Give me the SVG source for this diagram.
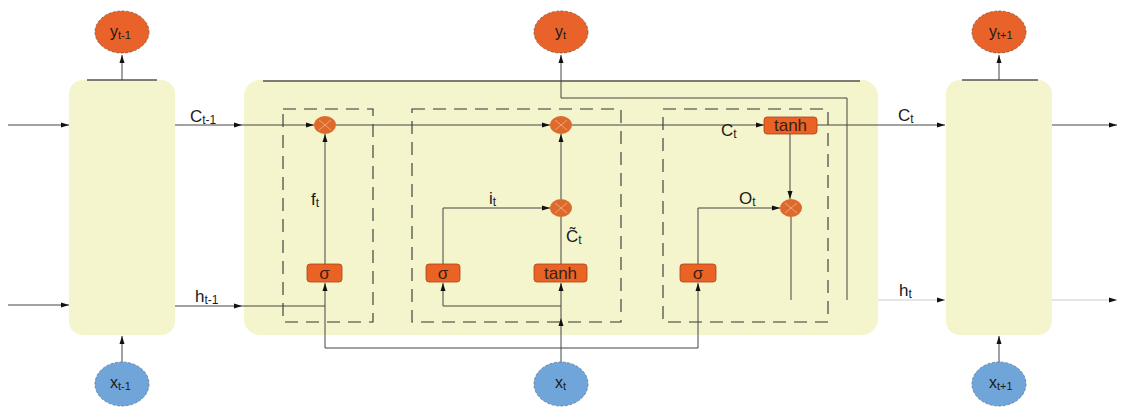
<svg xmlns="http://www.w3.org/2000/svg" width="1121" height="408" viewBox="0 0 1121 408">
<style>
.t{font-family:"Liberation Sans",Arial,sans-serif;fill:#1a1a1a;font-size:17px}
.s{font-size:12px}
.e{font-size:16px}
.es{font-size:11px}
.cell{fill:#f4f4cd}
.dash{fill:none;stroke:#333;stroke-width:1.1;stroke-dasharray:13,8}
.ln{fill:none;stroke:#444;stroke-width:1}
.faint{fill:none;stroke:#ccc;stroke-width:1}
.dark{fill:none;stroke:#555;stroke-width:1.6}
.yo{fill:#e8622a;stroke:#7a4428;stroke-width:0.7;stroke-dasharray:3,1.5}
.xb{fill:#6fa5d9;stroke:#4a6a8a;stroke-width:0.7;stroke-dasharray:3,1.5}
.gate{fill:#eb6324;stroke:#a44515;stroke-width:0.8}
.mul{fill:#dc6a2d}
.x{stroke:#f2a275;stroke-width:1}
.gt{font-family:"Liberation Sans",Arial,sans-serif;fill:#3a2014;font-size:17px;text-anchor:middle}
</style>
<defs>
<marker id="a" viewBox="0 0 8 6" refX="8" refY="3" markerWidth="8" markerHeight="6" markerUnits="userSpaceOnUse" orient="auto">
<path d="M0,0.5 L8,3 L0,5.5 z" fill="#111"/>
</marker>
</defs>

<g id="cell-prev">
<rect class="cell" x="69" y="80" width="106" height="255" rx="14"/>
<path class="dark" d="M87,80 H157"/>
</g>
<g id="cell-main">
<rect class="cell" x="244" y="80" width="634" height="255" rx="16"/>
<path class="dark" d="M263,81 H860"/>
</g>
<g id="cell-next">
<rect class="cell" x="946" y="80" width="106" height="255" rx="14"/>
<path class="dark" d="M962,80 H1038"/>
</g>

<g id="forget-box"><rect class="dash" x="283" y="109" width="90" height="213"/></g>
<g id="input-box"><rect class="dash" x="412" y="109" width="209" height="213"/></g>
<g id="output-box"><rect class="dash" x="663" y="109" width="165" height="213"/></g>

<g id="connectors">
<path class="ln" d="M8,125 H69" marker-end="url(#a)"/>
<path class="ln" d="M8,305 H69" marker-end="url(#a)"/>
<path class="ln" d="M122,80 V55" marker-end="url(#a)"/>
<path class="ln" d="M122,362 V336" marker-end="url(#a)"/>
<path class="ln" d="M175,125 H242" marker-end="url(#a)"/>
<path class="ln" d="M242,125 H314" marker-end="url(#a)"/>
<path class="ln" d="M336,125 H550" marker-end="url(#a)"/>
<path class="ln" d="M572,125 H764" marker-end="url(#a)"/>
<path class="ln" d="M817,125 H945" marker-end="url(#a)"/>
<path class="ln" d="M1052,125 H1117" marker-end="url(#a)"/>
<path class="ln" d="M175,306 H242" marker-end="url(#a)"/>
<path class="ln" d="M242,306 H325"/>
<path class="faint" d="M878,300 H945" marker-end="url(#a)"/>
<path class="faint" d="M1052,300 H1117" marker-end="url(#a)"/>
<path class="ln" d="M561,362 V318" marker-end="url(#a)"/>
<path class="ln" d="M561,318 V283" marker-end="url(#a)"/>
<path class="ln" d="M561,348 H325 V283" marker-end="url(#a)"/>
<path class="ln" d="M561,348 H698 V283" marker-end="url(#a)"/>
<path class="ln" d="M561,306 H443 V283" marker-end="url(#a)"/>
<path class="ln" d="M325,264 V134" marker-end="url(#a)"/>
<path class="ln" d="M443,264 V208 H550" marker-end="url(#a)"/>
<path class="ln" d="M561,264 V217"/>
<path class="ln" d="M561,199 V134" marker-end="url(#a)"/>
<path class="ln" d="M847,300 V98 H561 V55" marker-end="url(#a)"/>
<path class="ln" d="M790,134 V199" marker-end="url(#a)"/>
<path class="ln" d="M698,264 V208 H780" marker-end="url(#a)"/>
<path class="ln" d="M791,217 V300"/>
<path class="ln" d="M999,80 V55" marker-end="url(#a)"/>
<path class="ln" d="M999,362 V336" marker-end="url(#a)"/>
</g>

<g id="mul-f"><ellipse class="mul" cx="325" cy="125" rx="11" ry="9"/><path class="x" d="M319,120 L331,130 M331,120 L319,130"/></g>
<g id="mul-c"><ellipse class="mul" cx="561" cy="125" rx="11" ry="9"/><path class="x" d="M555,120 L567,130 M567,120 L555,130"/></g>
<g id="mul-i"><ellipse class="mul" cx="561" cy="208" rx="11" ry="9"/><path class="x" d="M555,203 L567,213 M567,203 L555,213"/></g>
<g id="mul-o"><ellipse class="mul" cx="791" cy="208" rx="11" ry="9"/><path class="x" d="M785,203 L797,213 M797,203 L785,213"/></g>

<g id="sig-f"><rect class="gate" x="307" y="264" width="35" height="18" rx="3"/><text class="gt" x="324.5" y="279">σ</text></g>
<g id="sig-i"><rect class="gate" x="426" y="264" width="34" height="18" rx="3"/><text class="gt" x="443" y="279">σ</text></g>
<g id="tanh-c"><rect class="gate" x="534" y="264" width="53" height="18" rx="3"/><text class="gt" x="560.5" y="279">tanh</text></g>
<g id="sig-o"><rect class="gate" x="680" y="264" width="36" height="18" rx="3"/><text class="gt" x="698" y="279">σ</text></g>
<g id="tanh-o"><rect class="gate" x="764" y="117" width="53" height="17" rx="3"/><text class="gt" x="790.5" y="131">tanh</text></g>

<g id="y-prev"><ellipse class="yo" cx="122" cy="32" rx="27" ry="21"/><text class="t e" x="110" y="37">y<tspan class="es" dy="2">t-1</tspan></text></g>
<g id="y-cur"><ellipse class="yo" cx="561" cy="32" rx="27" ry="21"/><text class="t e" x="555" y="37">y<tspan class="es" dy="2">t</tspan></text></g>
<g id="y-next"><ellipse class="yo" cx="999" cy="32" rx="27" ry="21"/><text class="t e" x="989" y="37">y<tspan class="es" dy="2">t+1</tspan></text></g>
<g id="x-prev"><ellipse class="xb" cx="122" cy="384" rx="27" ry="22"/><text class="t e" x="110" y="388">x<tspan class="es" dy="2">t-1</tspan></text></g>
<g id="x-cur"><ellipse class="xb" cx="561" cy="384" rx="27" ry="22"/><text class="t e" x="555" y="388">x<tspan class="es" dy="2">t</tspan></text></g>
<g id="x-next"><ellipse class="xb" cx="999" cy="384" rx="27" ry="22"/><text class="t e" x="989" y="388">x<tspan class="es" dy="2">t+1</tspan></text></g>

<g id="labels">
<text class="t" x="190" y="122">C<tspan class="s" dy="2">t-1</tspan></text>
<text class="t" x="195" y="302">h<tspan class="s" dy="2">t-1</tspan></text>
<text class="t" x="311" y="205">f<tspan class="s" dy="2">t</tspan></text>
<text class="t" x="489" y="204">i<tspan class="s" dy="2">t</tspan></text>
<text class="t" x="566" y="242">C̃<tspan class="s" dy="2">t</tspan></text>
<text class="t" x="739" y="204">O<tspan class="s" dy="2">t</tspan></text>
<text class="t" x="721" y="136">C<tspan class="s" dy="2">t</tspan></text>
<text class="t" x="898" y="121">C<tspan class="s" dy="2">t</tspan></text>
<text class="t" x="899" y="296">h<tspan class="s" dy="2">t</tspan></text>
</g>
</svg>
